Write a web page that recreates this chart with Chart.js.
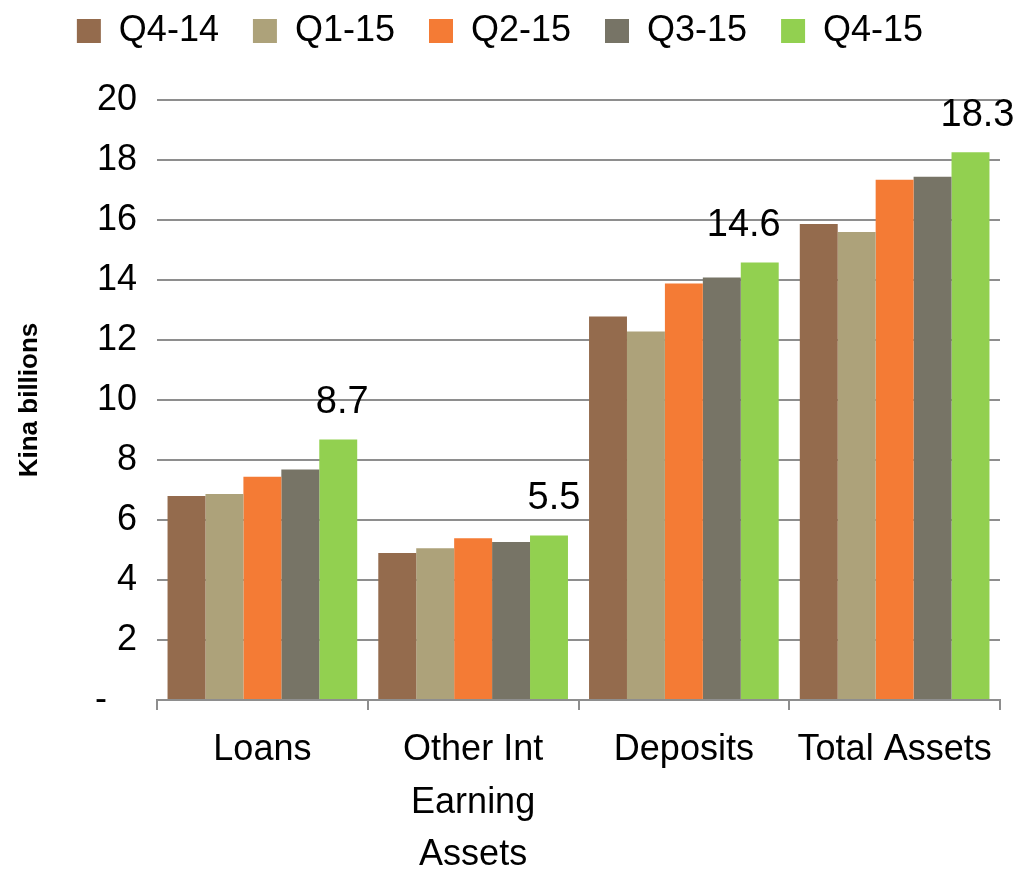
<!DOCTYPE html>
<html>
<head>
  <title>Kina billions by quarter</title>
  <script src="https://cdn.jsdelivr.net/npm/chart.js"></script>
  <style>
    html, body { margin: 0; padding: 0; background: #fff; }
    canvas { display: block; }
  </style>
</head>
<body>
  <canvas id="chart" width="1019" height="876"></canvas>
  <script>
    // values (Kina billions)
    const categories = ['Loans', ['Other Int', 'Earning', 'Assets'], 'Deposits', 'Total Assets'];
    const quarters = ['Q4-14', 'Q1-15', 'Q2-15', 'Q3-15', 'Q4-15'];
    const q4_14 = [6.80, 4.90, 12.78, 15.87];
    const q1_15 = [6.87, 5.06, 12.28, 15.60];
    const q2_15 = [7.44, 5.39, 13.88, 17.34];
    const q3_15 = [7.68, 5.27, 14.08, 17.44];
    const q4_15 = [8.68, 5.48, 14.58, 18.26];
    const yTicks = [0, 2, 4, 6, 8, 10, 12, 14, 16, 18, 20];

    const colors = ['#946b4d', '#ada27a', '#f47b35', '#777466', '#92d050'];
    const series = [q4_14, q1_15, q2_15, q3_15, q4_15];
    const FONT = '"Liberation Sans", Arial, sans-serif';
    const gridColor = '#8e8e8e';

    // legend: keep it short at the top, plot starts at y=100
    const legendFit = {
      id: 'legendFit',
      beforeInit(chart) {
        const fit = chart.legend.fit;
        chart.legend.fit = function () {
          fit.call(this);
          this.height = 121;
        };
      }
    };

    // value labels only on the latest quarter
    const valueLabels = {
      id: 'valueLabels',
      afterDatasetsDraw(chart) {
        const ctx = chart.ctx;
        const meta = chart.getDatasetMeta(4);
        const nudge = [4, 5, -16, 7];
        ctx.save();
        ctx.font = '38px ' + FONT;
        ctx.fillStyle = '#000';
        ctx.textAlign = 'center';
        ctx.textBaseline = 'middle';
        meta.data.forEach((bar, i) => {
          ctx.fillText(q4_15[i].toFixed(1), bar.x + nudge[i], bar.y - 37);
        });
        ctx.restore();
      }
    };

    new Chart(document.getElementById('chart'), {
      type: 'bar',
      data: {
        labels: categories,
        datasets: quarters.map((q, i) => ({
          label: q,
          data: series[i],
          backgroundColor: colors[i],
          borderWidth: 0,
          categoryPercentage: 0.9,
          barPercentage: 1.0
        }))
      },
      options: {
        responsive: false,
        animation: false,
        devicePixelRatio: 1,
        layout: { padding: { top: -21, left: 0, right: 19, bottom: 0 } },
        plugins: {
          legend: {
            display: true,
            position: 'top',
            labels: {
              boxWidth: 24,
              boxHeight: 24,
              padding: 34,
              color: '#000',
              font: { family: FONT, size: 36 }
            }
          },
          tooltip: { enabled: false }
        },
        scales: {
          x: {
            grid: {
              offset: true,
              drawOnChartArea: false,
              drawTicks: true,
              tickLength: 10,
              color: gridColor,
              lineWidth: 2
            },
            border: { display: true, color: gridColor, width: 2 },
            ticks: {
              color: '#000',
              padding: 14,
              maxRotation: 0,
              autoSkip: false,
              font: { family: FONT, size: 36, lineHeight: 1.46 }
            },
            afterFit(scale) { scale.height = 176; }
          },
          y: {
            min: 0,
            max: 20,
            afterBuildTicks(scale) {
              scale.ticks = yTicks.map(v => ({ value: v }));
            },
            grid: { color: gridColor, lineWidth: 2, drawTicks: false },
            border: { display: false },
            ticks: {
              color: '#000',
              padding: 20,
              font: { family: FONT, size: 36 },
              callback: v => (v === 0 ? '-   ' : v)
            },
            title: {
              display: true,
              text: 'Kina billions',
              color: '#000',
              padding: { top: 14, bottom: 0 },
              font: { family: FONT, size: 26, weight: 'bold' }
            },
            afterFit(scale) { scale.width = 157; }
          }
        }
      },
      plugins: [legendFit, valueLabels]
    });
  </script>
</body>
</html>
